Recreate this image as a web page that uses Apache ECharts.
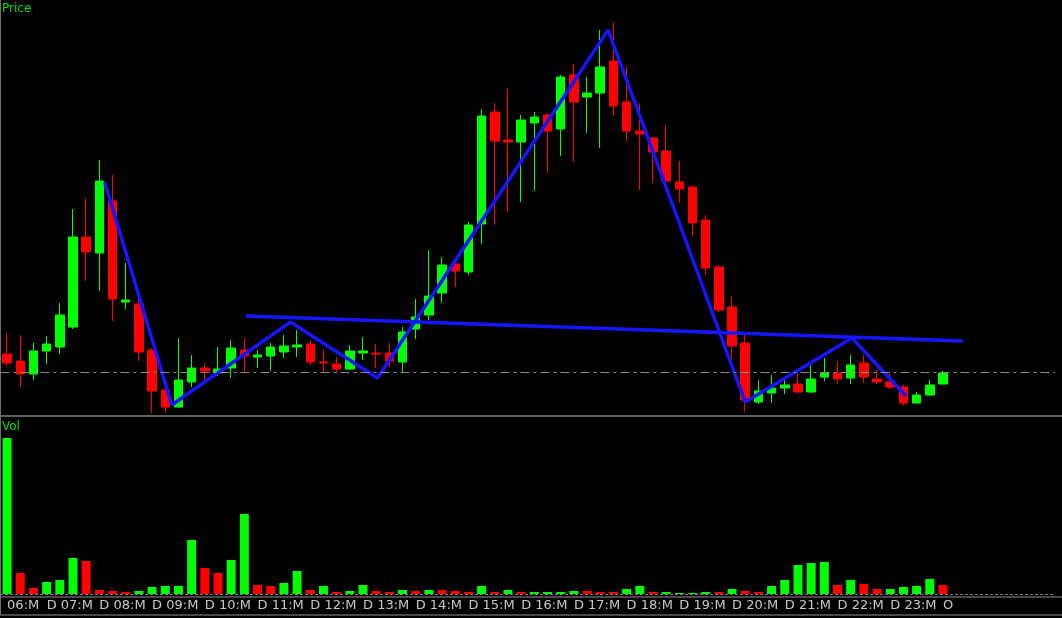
<!DOCTYPE html>
<html>
<head>
<meta charset="utf-8">
<script src="https://cdn.jsdelivr.net/npm/echarts@6/dist/echarts.min.js"></script>
<style>
  html, body { margin: 0; padding: 0; background: #000; }
  #chart { width: 1062px; height: 618px; }
</style>
</head>
<body>
<div id="chart"></div>
<script>
// price values are read on a top-down scale (the price pane has no axis labels)
const opens  = [354,361,374,351,347,327,237,253,201,302,304,350,390,407,382,368,373,368,350,357,356,352,347,344,362,364,369,353,353,353,362,329,315,293,264,272,224,112,140,142,123,115,129,75,97,93,61,102,131,138,151,182,187,220,267,307,343,402,393,388,384,392,377,373,378,363,379,382,387,403,395,384];
const closes = [363,374,351,344,315,237,252,181,299,300,352,391,407,380,368,371,369,348,356,355,347,346,345,362,363,369,351,351,354,361,332,317,296,265,271,225,116,141,142,120,117,131,77,102,93,67,106,131,134,152,181,189,223,268,310,346,400,391,388,385,392,379,373,379,365,377,382,387,403,395,385,373];
const highs  = [333,335,343,336,303,209,198,160,175,263,297,348,383,338,355,363,347,340,338,350,343,335,330,340,350,357,345,337,344,343,327,299,250,257,263,222,109,103,89,115,112,113,75,64,77,30,22,67,103,137,125,161,186,215,265,297,335,380,375,380,373,365,358,361,355,355,370,373,385,392,380,371];
const lows   = [366,387,380,364,354,329,281,291,321,309,361,413,413,407,387,380,376,378,372,368,371,358,357,365,373,373,370,360,368,367,373,339,320,303,287,275,244,225,212,202,191,173,156,162,133,148,116,141,190,183,188,203,236,275,312,359,412,404,403,394,393,393,381,383,384,383,384,389,406,403,396,384];

const volumes   = [156,21,6,12,14,36,33,4,3,2,3,7,8,8,54,26,21,34,80,9,8,11,23,4,8,2,3,9,3,2,4,3,4,4,3,2,8,2,4,2,2,2,2,3,3,2,2,5,8,2,2,1,1,2,2,5,3,2,8,14,29,31,32,9,14,10,5,5,7,8,15,9];
const volUp     = [1,0,0,1,1,1,0,0,0,0,1,1,1,1,1,0,0,1,1,0,0,1,1,0,1,0,1,1,0,0,1,0,1,0,0,0,1,0,1,0,1,1,1,1,0,0,0,1,1,0,1,1,1,1,0,1,0,0,1,1,1,1,1,0,1,0,0,1,1,1,1,0];

const months = ['07','08','09','10','11','12','13','14','15','16','17','18','19','20','21','22','23'];

// hand-drawn pattern lines, positions in bar index / price
const zigzag   = [[7.4,182],[12.5,405],[21.5,322],[28.1,378],[45.6,30],[56.0,402],[64.1,338],[68.2,396]];
const neckline = [[18.1,316],[72.5,341]];

const slots = 80;
const cats = [];
for (let i = 0; i < slots; i++) {
  if (i === 0) cats.push('06:M');
  else if (i % 4 === 3 && (i - 3) / 4 < months.length) cats.push('D ' + months[(i - 3) / 4] + ':M');
  else if (i === 71) cats.push('O');
  else cats.push('');
}

const candles = opens.map((o, i) => [o, closes[i], lows[i], highs[i]]);
const vols = volumes.map((v, i) => ({
  value: v,
  itemStyle: { color: volUp[i] ? '#00ff00' : '#ff0000' }
}));

const chart = echarts.init(document.getElementById('chart'));
chart.setOption({
  backgroundColor: '#000',
  animation: false,
  grid: [
    { left: 0.5, right: 7, top: 0, height: 415 },
    { left: 0.5, right: 7, top: 418, bottom: 24 }
  ],
  xAxis: [
    { type: 'category', gridIndex: 0, data: cats, show: false },
    { type: 'value', gridIndex: 0, min: -0.5, max: slots - 0.5, show: false },
    {
      type: 'category', gridIndex: 1, data: cats,
      axisLine: { lineStyle: { color: '#808080', type: [2, 3] } },
      axisTick: { show: false },
      axisLabel: {
        interval: 0, color: '#c8c8c8', fontFamily: 'DejaVu Sans', fontSize: 13,
        align: 'left', margin: 5
      }
    }
  ],
  yAxis: [
    { type: 'value', gridIndex: 0, inverse: true, min: 0, max: 415, show: false },
    { type: 'value', gridIndex: 1, min: 0, max: 176, show: false }
  ],
  series: [
    {
      type: 'candlestick', xAxisIndex: 0, yAxisIndex: 0, data: candles,
      barWidth: 9,
      itemStyle: { color: '#ff0000', color0: '#00ff00', borderColor: '#ff0000', borderColor0: '#00ff00', borderWidth: 1 },
      markLine: {
        silent: true, symbol: 'none', label: { show: false },
        lineStyle: { color: '#8a8a8a', type: [9, 4, 3, 4], width: 1 },
        data: [{ yAxis: 372 }]
      }
    },
    {
      type: 'line', xAxisIndex: 1, yAxisIndex: 0, data: zigzag, symbol: 'none',
      lineStyle: { color: '#1515ff', width: 3.5 }
    },
    {
      type: 'line', xAxisIndex: 1, yAxisIndex: 0, data: neckline, symbol: 'none',
      lineStyle: { color: '#1515ff', width: 3.5 }
    },
    {
      type: 'bar', xAxisIndex: 2, yAxisIndex: 1, data: vols, barWidth: 9
    }
  ],
  graphic: [
    { type: 'line', shape: { x1: 0, y1: 416, x2: 1062, y2: 416 }, style: { stroke: '#c0c0c0', lineWidth: 1 } },
    { type: 'line', shape: { x1: 0, y1: 597, x2: 1062, y2: 597 }, style: { stroke: '#909090', lineWidth: 1 } },
    { type: 'line', shape: { x1: 0, y1: 615, x2: 1062, y2: 615 }, style: { stroke: '#909090', lineWidth: 1 } },
    { type: 'line', shape: { x1: 0.5, y1: 0, x2: 0.5, y2: 615 }, style: { stroke: '#707070', lineWidth: 1 } },
    { type: 'text', left: 2, top: 3, style: { text: 'Price', fill: '#00e000', font: '12px "DejaVu Sans"' } },
    { type: 'text', left: 2, top: 421, style: { text: 'Vol', fill: '#00e000', font: '12px "DejaVu Sans"' } }
  ]
});
</script>
</body>
</html>
